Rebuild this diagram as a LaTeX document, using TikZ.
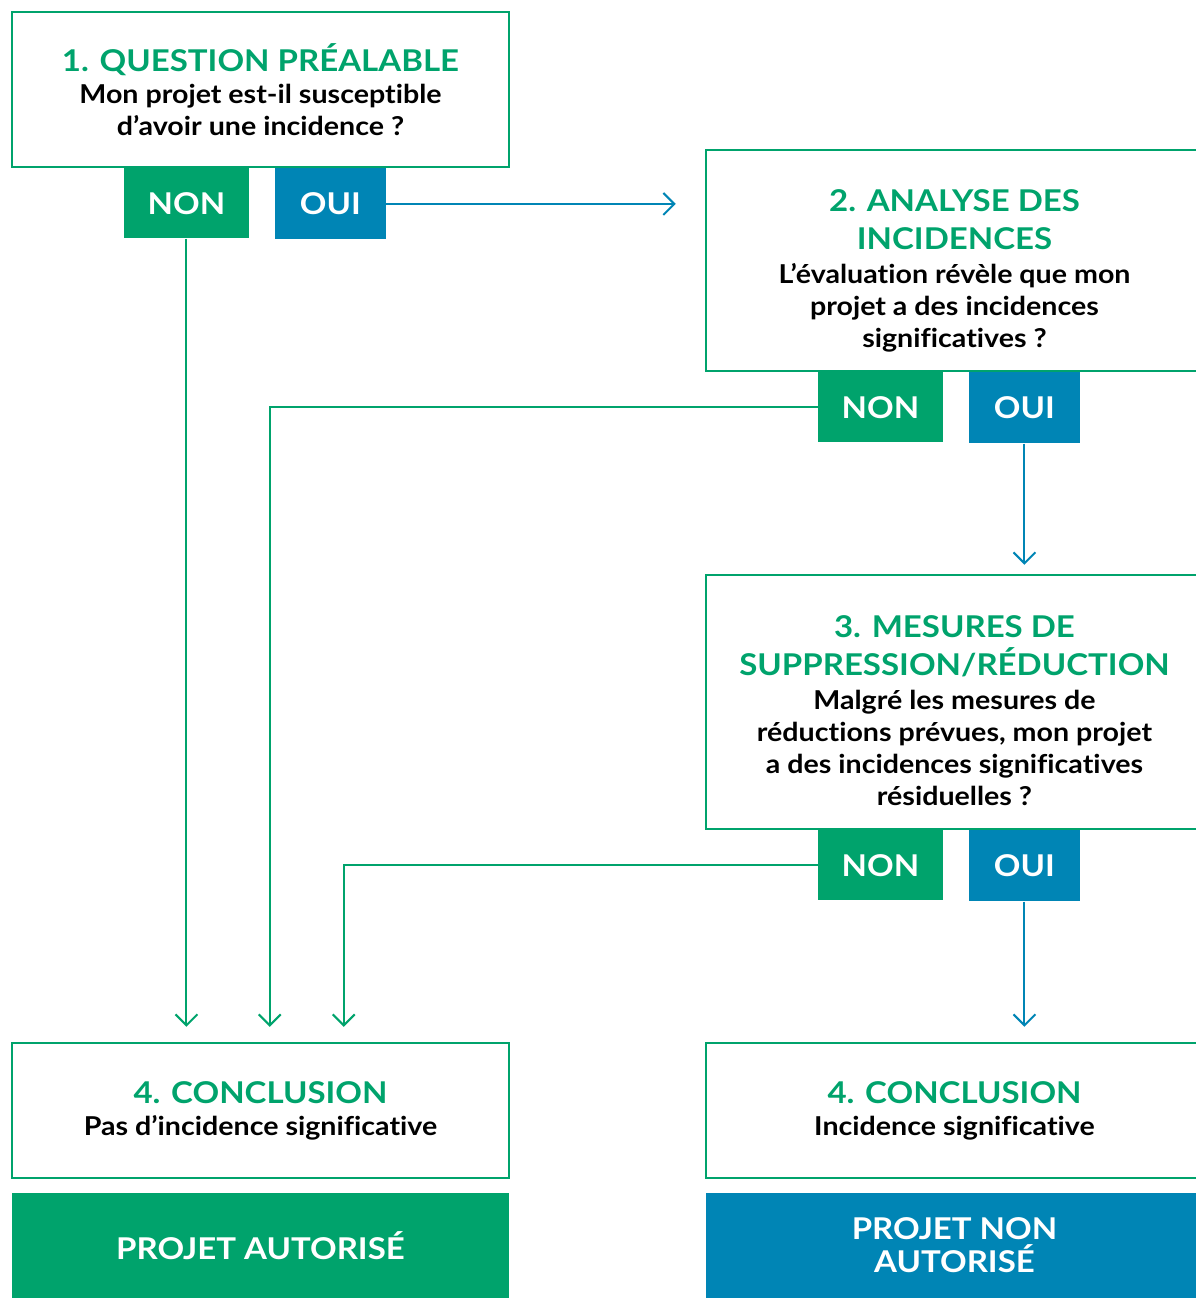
\documentclass[tikz,border=0pt]{standalone}
\usepackage{fontspec}
\setmainfont{Lato}[FakeStretch=1.1, Ligatures=NoCommon]
\usetikzlibrary{positioning, arrows.meta, calc}
\definecolor{vert}{HTML}{00A36C}
\definecolor{bleu}{HTML}{0085B5}
\newcommand{\titlefont}{\fontsize{30}{38}\selectfont\bfseries}
\newcommand{\bodyfont}{\fontsize{26}{32}\selectfont\bfseries}
\newcommand{\titre}[1]{{\color{vert}\titlefont #1}}
\tikzstyle{arrow} = [line width=2pt,-{Straight Barb[length=11pt,width=22pt,line width=2pt]}]
\tikzstyle{etape} = [rectangle, draw=vert, line width=2.5pt, minimum width=497pt, inner sep=0pt, align=center, font=\bodyfont]
\tikzstyle{non} = [rectangle, fill=vert, text=white, minimum width=125pt, minimum height=70pt, font=\titlefont]
\tikzstyle{oui} = [rectangle, fill=bleu, text=white, minimum width=111pt, minimum height=71pt, font=\titlefont]
\tikzstyle{issue} = [rectangle, minimum width=497pt, minimum height=105pt, inner sep=0pt, text=white, align=center, font=\fontsize{30}{33}\selectfont\bfseries]

\begin{document}
\begin{tikzpicture}[x=1pt, y=-1pt]
        \useasboundingbox (0,0) rectangle (1195,1298);

        \node (q1) [etape, minimum height=155pt] at (260.5,89.5) {\titre{1. QUESTION PRÉALABLE}\\Mon projet est-il susceptible\\d’avoir une incidence ?};
        \node (q2) [etape, minimum height=221pt] at (954.5,260.5) {\titre{\rule{0pt}{42pt}2. ANALYSE DES}\\[6pt]\titre{INCIDENCES}\\[2pt]L’évaluation révèle que mon\\projet a des incidences\\significatives ?};
        \node (q3) [etape, minimum height=254pt] at (954.5,702) {\titre{\rule{0pt}{40pt}3. MESURES DE}\\[6pt]\titre{SUPPRESSION/RÉDUCTION}\\[2pt]Malgré les mesures de\\réductions prévues, mon projet\\a des incidences significatives\\résiduelles ?};
        \node (q4a) [etape, minimum height=135pt] at (260.5,1110.5) {\titre{4. CONCLUSION}\\Pas d’incidence significative};
        \node (q4b) [etape, minimum height=135pt] at (954.5,1110.5) {\titre{4. CONCLUSION}\\Incidence significative};
        \node (ok) [issue, fill=vert] at (260.5,1245.5) {PROJET AUTORISÉ};
        \node (nok) [issue, fill=bleu] at (954.5,1245.5) {PROJET NON\\AUTORISÉ};

        \node (non1) [non, below right=0pt and 113pt of q1.south west] {NON};
        \node (oui1) [oui, below right=0pt and 264pt of q1.south west] {OUI};
        \node (non2) [non, below right=0pt and 113pt of q2.south west] {NON};
        \node (oui2) [oui, below right=0pt and 264pt of q2.south west] {OUI};
        \node (non3) [non, below right=0pt and 113pt of q3.south west] {NON};
        \node (oui3) [oui, below right=0pt and 264pt of q3.south west] {OUI};

        \draw [arrow, bleu, shorten >=29pt] (oui1.east) -- (oui1.east -| q2.west);
        \draw [arrow, bleu, shorten >=9pt] (oui2.south) -- (oui2.south |- q3.north);
        \draw [arrow, bleu, shorten >=15pt] (oui3.south) -- (oui3.south |- q4b.north);
        \draw [arrow, vert, shorten >=15pt] (non1.south) -- (non1.south |- q4a.north);
        \draw [arrow, vert, shorten >=15pt] (non2.west) -| ($(q4a.north west)+(259,0)$);
        \draw [arrow, vert, shorten >=15pt] (non3.west) -| ($(q4a.north west)+(333,0)$);

        \end{tikzpicture}
\end{document}
